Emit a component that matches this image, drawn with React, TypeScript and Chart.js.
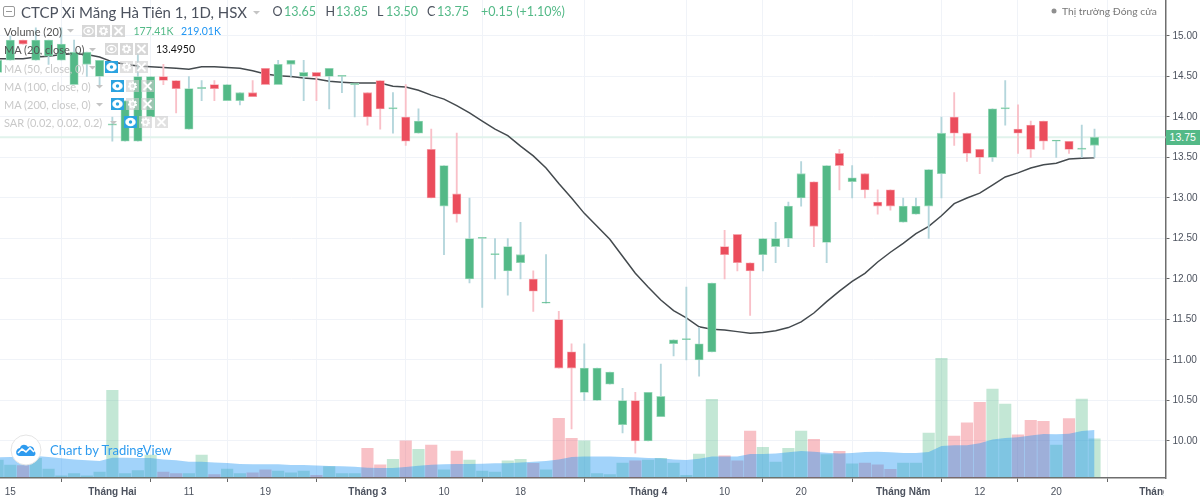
import React, { useEffect, useRef } from "react";
import { Chart, registerables } from "chart.js";

Chart.register(...registerables);

const firstIndex = -1;
const opens = [14.55,14.7,14.95,14.7,14.75,14.7,14.4,14.65,14.5,13.9,13.7,13.7,14.0,14.5,14.45,13.85,14.35,14.4,14.2,14.2,14.3,14.6,14.4,14.65,14.5,14.55,14.5,14.5,14.4,14.3,14.45,14.1,14.0,13.8,13.6,12.9,13.05,12.0,12.5,12.3,12.1,12.2,12.0,11.7,11.5,11.1,10.6,10.5,10.7,10.2,10.5,10.0,10.3,11.2,11.25,11.0,11.1,12.4,12.55,12.2,12.3,12.4,12.5,13.0,13.2,12.45,13.55,13.2,13.3,12.95,13.1,12.7,12.8,12.9,13.3,14.0,13.8,13.6,13.5,14.1,13.85,13.9,13.95,13.7,13.7,13.6,13.65];
const closes = [14.7,14.95,14.9,14.95,14.95,14.9,14.8,14.8,14.7,13.9,14.2,14.5,14.5,14.45,14.35,14.35,14.35,14.35,14.4,14.3,14.25,14.4,14.65,14.7,14.55,14.5,14.6,14.5,14.4,14.0,14.1,14.1,13.7,13.95,13.0,13.4,12.8,12.5,12.5,12.3,12.4,12.3,11.85,11.7,10.9,10.9,10.9,10.9,10.85,10.5,10.0,10.6,10.55,11.25,11.25,11.2,11.95,12.3,12.2,12.1,12.5,12.5,12.9,13.3,12.65,13.4,13.4,13.25,13.1,12.9,12.9,12.9,12.9,13.35,13.8,13.8,13.55,13.5,14.1,14.1,13.8,13.6,13.7,13.7,13.6,13.6,13.75];
const highs = [14.7,15.0,14.95,15.1,14.95,15.1,14.95,14.8,14.7,14.0,14.2,14.8,14.5,14.65,14.45,14.5,14.45,14.45,14.4,14.3,14.45,14.6,14.7,14.7,14.7,14.55,14.6,14.5,14.4,14.3,14.45,14.3,14.4,14.1,13.85,13.4,13.8,13.0,12.5,12.5,12.5,12.7,12.1,12.3,11.6,11.2,11.2,10.9,10.85,10.65,10.6,10.6,10.95,11.25,11.9,11.4,11.95,12.6,12.55,12.2,12.5,12.7,12.95,13.45,13.2,13.4,13.6,13.4,13.3,13.1,13.1,13.0,13.0,13.35,14.0,14.3,13.8,13.6,14.1,14.45,14.15,13.95,13.95,13.7,13.7,13.9,13.85];
const lows = [14.55,14.7,14.9,14.7,14.65,14.7,14.4,14.5,14.4,13.7,13.7,13.7,14.0,14.4,14.05,13.85,14.2,14.2,14.2,14.15,14.25,14.4,14.4,14.5,14.2,14.2,14.1,14.3,14.0,13.9,13.85,13.8,13.65,13.8,13.0,12.3,12.7,11.95,11.65,12.0,11.8,12.0,11.6,11.7,10.9,10.15,10.5,10.5,10.7,10.1,9.85,10.0,10.3,11.05,11.0,10.8,11.1,12.0,12.1,11.55,12.1,12.2,12.4,12.9,12.4,12.2,13.1,13.0,13.0,12.8,12.85,12.7,12.8,12.5,13.0,13.65,13.45,13.3,13.45,13.9,13.55,13.5,13.6,13.5,13.55,13.5,13.5];
const ma20 = [14.72,14.72,14.72,14.74,14.75,14.77,14.78,14.77,14.74,14.68,14.65,14.63,14.62,14.61,14.6,14.59,14.62,14.62,14.61,14.6,14.57,14.53,14.51,14.5,14.48,14.47,14.44,14.43,14.42,14.42,14.42,14.38,14.37,14.33,14.27,14.22,14.14,14.05,13.95,13.85,13.77,13.64,13.52,13.37,13.18,13.0,12.81,12.65,12.49,12.28,12.07,11.9,11.74,11.61,11.52,11.41,11.38,11.37,11.35,11.33,11.34,11.36,11.4,11.47,11.58,11.72,11.85,11.97,12.07,12.21,12.33,12.44,12.56,12.65,12.78,12.93,13.0,13.06,13.16,13.26,13.31,13.37,13.41,13.43,13.48,13.49,13.495];
const volumes = [79,56,53,87,37,5,16,5,23,404,16,30,102,23,16,16,102,11,37,16,20,33,28,20,28,8,48,16,16,134,57,82,168,129,149,33,121,79,28,23,75,82,64,33,273,180,168,16,11,65,75,79,87,65,8,107,362,99,75,214,138,70,134,214,175,104,120,61,65,57,36,65,65,205,553,191,252,348,410,340,196,264,259,149,272,363,177.41];
const volumeMa = [92,93,95,98,93,87,82,78,75,90,90,89,89,82,78,71,71,67,65,61,59,59,59,56,56,54,51,50,48,43,42,42,47,53,57,59,61,61,62,64,64,67,71,75,82,93,96,96,96,93,92,89,87,82,79,85,95,96,96,107,107,110,115,121,118,113,110,112,116,118,115,112,112,116,144,148,148,157,175,182,185,193,200,199,202,214,219.01];
const lastPrice = 13.75;
const xTickIndexes = [0, 8, 14, 20, 28, 34, 40, 50, 56, 62, 70, 76, 82, 90];
const xTickLabels = ["15", "Tháng Hai", "11", "19", "Tháng 3", "10", "18", "Tháng 4", "10", "20", "Tháng Năm", "12", "20", "Tháng 6"];
const priceTicks = [10, 10.5, 11, 11.5, 12, 12.5, 13, 13.5, 14, 14.5, 15];

const GREEN = "#53b987";
const RED = "#eb4d5c";
const UI_FONT = 'Lato, "Noto Sans", sans-serif';
const AXIS_FONT = '"Liberation Sans", Arial, sans-serif';

const isUp = (i: number) => closes[i] >= opens[i];
const xOf = (i: number) => i + firstIndex;
const zeroPad = (s: any) => { s.paddingTop = 0; s.paddingBottom = 0; s.paddingLeft = 0; s.paddingRight = 0; };

const Txt = ({ x, y, size = 12, color = "#555", ls = 0, children }: any) => (
  <span style={{ position: "absolute", left: x, top: y, transform: "translateY(-50%)", fontFamily: UI_FONT, fontSize: size, color, letterSpacing: ls, whiteSpace: "nowrap", lineHeight: 1 }}>
    {children}
  </span>
);

const Caret = ({ x, y }: any) => (
  <svg style={{ position: "absolute", left: x, top: y - 1.5 }} width="7" height="4">
    <path d="M0 0H7L3.5 3.5Z" fill="#c4c4c4" />
  </svg>
);

const Btn = ({ x, y, kind, active, faint }: any) => {
  const stroke = "#fff";
  return (
    <svg style={{ position: "absolute", left: x, top: y }} width="13" height="12">
      <rect width="13" height="12" fill={active ? "#2ba3e0" : faint ? "rgba(205,205,205,0.6)" : "rgba(205,205,205,0.8)"} />
      {kind === "eye" && (
        <g>
          <ellipse cx="6.5" cy="6" rx="4.6" ry="3.6" fill={active ? "#fff" : "none"} stroke={stroke} strokeWidth="1.2" />
          <circle cx="6.5" cy="6" r="1.7" fill={active ? "#2ba3e0" : stroke} />
        </g>
      )}
      {kind === "gear" && (
        <g fill="none" stroke={stroke}>
          <circle cx="6.5" cy="6" r="3.4" strokeWidth="2.2" strokeDasharray="1.9 1.1" />
          <circle cx="6.5" cy="6" r="2.6" strokeWidth="1.4" />
        </g>
      )}
      {kind === "x" && <path d="M2.5 2L10.5 10M10.5 2L2.5 10" stroke={stroke} strokeWidth="1.8" />}
    </svg>
  );
};

const Overlay = () => (
  <div style={{ position: "absolute", inset: 0, pointerEvents: "none" }}>
    <svg style={{ position: "absolute", left: 3, top: 6 }} width="13" height="12">
      <rect x="0.5" y="0.5" width="11" height="10" rx="1.5" fill="none" stroke="#9a9a9a" />
      <path d="M3 5.5H9" stroke="#9a9a9a" />
    </svg>
    <Txt x={21} y={12} size={15} color="#4c525e">CTCP Xi Măng Hà Tiên 1, 1D, HSX</Txt>
    <Caret x={253} y={12} />
    <Txt x={272.5} y={12} size={12.5} color="#4c525e">O</Txt>
    <Txt x={284} y={12} size={12.5} color={GREEN}>13.65</Txt>
    <Txt x={325.5} y={12} size={12.5} color="#4c525e">H</Txt>
    <Txt x={336} y={12} size={12.5} color={GREEN}>13.85</Txt>
    <Txt x={377} y={12} size={12.5} color="#4c525e">L</Txt>
    <Txt x={386} y={12} size={12.5} color={GREEN}>13.50</Txt>
    <Txt x={427} y={12} size={12.5} color="#4c525e">C</Txt>
    <Txt x={437} y={12} size={12.5} color={GREEN}>13.75</Txt>
    <Txt x={481} y={12} size={12.5} color={GREEN}>+0.15 (+1.10%)</Txt>
    <svg style={{ position: "absolute", left: 1051, top: 8 }} width="6" height="6"><circle cx="3" cy="3" r="2.5" fill="#8f8f8f" /></svg>
    <Txt x={1062} y={11} size={10.3} color="#777">Thị trường Đóng cửa</Txt>

    <Txt x={4} y={30.5} size={11} color="#555">Volume (20)</Txt>
    <Caret x={67} y={30.5} />
    <Btn x={82} y={25} kind="eye" /><Btn x={97} y={25} kind="gear" /><Btn x={112} y={25} kind="x" />
    <Txt x={133.5} y={30.5} size={10.5} color={GREEN}>177.41K</Txt>
    <Txt x={181} y={30.5} size={10.5} color="#2196f3">219.01K</Txt>

    <Txt x={4} y={49} size={11} color="#555">MA (20, close, 0)</Txt>
    <Caret x={89} y={49} />
    <Btn x={105} y={43} kind="eye" /><Btn x={120} y={43} kind="gear" /><Btn x={135} y={43} kind="x" />
    <Txt x={156} y={49} size={10.5} color="#111">13.4950</Txt>

    <Txt x={4} y={67.5} size={11} color="#c9c9c9">MA (50, close, 0)</Txt>
    <Caret x={89} y={67.5} />
    <Btn x={105} y={61} kind="eye" active /><Btn x={120} y={61} kind="gear" faint /><Btn x={135} y={61} kind="x" faint />

    <Txt x={4} y={86} size={11} color="#c9c9c9">MA (100, close, 0)</Txt>
    <Caret x={96} y={86} />
    <Btn x={111} y={80} kind="eye" active /><Btn x={126} y={80} kind="gear" faint /><Btn x={141} y={80} kind="x" faint />

    <Txt x={4} y={104} size={11} color="#c9c9c9">MA (200, close, 0)</Txt>
    <Caret x={96} y={104} />
    <Btn x={111} y={98} kind="eye" active /><Btn x={126} y={98} kind="gear" faint /><Btn x={141} y={98} kind="x" faint />

    <Txt x={4} y={122} size={11} color="#c9c9c9">SAR (0.02, 0.02, 0.2)</Txt>
    <Caret x={110} y={122} />
    <Btn x={124} y={116} kind="eye" active /><Btn x={139} y={116} kind="gear" faint /><Btn x={155} y={116} kind="x" faint />

    <svg style={{ position: "absolute", left: 10, top: 434 }} width="32" height="32">
      <circle cx="16" cy="16" r="15" fill="#fff" stroke="#e4e4e4" />
      <path d="M7 21C5 18 7 14 10 14C11 10 16 10 18 13C21 11 25 14 24 17C26 18 26 21 24 22H9Z" fill="#2e9bef" />
      <path d="M8 19L12 15L16 18L20 14L24 18" fill="none" stroke="#fff" strokeWidth="1.6" />
    </svg>
    <Txt x={50} y={450} size={13} color="#2e9bef">Chart by TradingView</Txt>

    <div style={{ position: "absolute", left: 1165.5, top: 130, width: 34.5, height: 15, background: GREEN, color: "#fff", fontFamily: AXIS_FONT, fontSize: 10.5, lineHeight: "15px", textAlign: "center" }}>
      {lastPrice.toFixed(2)}
    </div>
  </div>
);

export default function App() {
  const ref = useRef<HTMLCanvasElement | null>(null);
  useEffect(() => {
    const xs = opens.map((_, i) => xOf(i));
    const bar = (values: any[]) => values.map((y, i) => ({ x: xs[i], y }));
    const chart = new Chart(ref.current as HTMLCanvasElement, {
      type: "bar",
      data: {
        datasets: [
          { type: "line", order: 6, yAxisID: "y", data: [{ x: -2, y: lastPrice }, { x: 92, y: lastPrice }], borderColor: "#e1f3ec", borderWidth: 2, pointRadius: 0 },
          { type: "bar", order: 5, yAxisID: "vol", grouped: false, barThickness: 11.5, data: bar(volumes), backgroundColor: xs.map((_, i) => (isUp(i) ? "rgba(83,185,135,0.35)" : "rgba(235,77,92,0.35)")) },
          { type: "line", order: 4, yAxisID: "vol", data: bar(volumeMa), fill: "origin", backgroundColor: "rgba(33,150,243,0.42)", borderWidth: 0, pointRadius: 0, tension: 0 },
          { type: "line", order: 3, yAxisID: "y", data: bar(ma20), borderColor: "#444a4e", borderWidth: 1.5, pointRadius: 0, tension: 0 },
          { type: "bar", order: 2, yAxisID: "y", grouped: false, barThickness: 1.2, data: bar(xs.map((_, i) => [lows[i], highs[i]])), backgroundColor: xs.map((_, i) => (isUp(i) ? "#b4d6dc" : "#f9c0c8")) },
          { type: "bar", order: 1, yAxisID: "y", grouped: false, barThickness: 8.4, minBarLength: 1.2, borderSkipped: false, borderWidth: 0.8, data: bar(xs.map((_, i) => [opens[i], closes[i]])), backgroundColor: xs.map((_, i) => (isUp(i) ? GREEN : RED)), borderColor: xs.map((_, i) => (isUp(i) ? "#a3dcc0" : "#f7a8b0")) },
        ] as any,
      },
      options: {
        animation: false,
        responsive: false,
        layout: { padding: 0 },
        plugins: { legend: { display: false }, title: { display: false }, tooltip: { enabled: false } },
        scales: {
          x: {
            type: "linear",
            offset: false,
            min: -0.808,
            max: 90.565,
            afterBuildTicks: (s: any) => { s.ticks = xTickIndexes.map((value) => ({ value })); },
            afterFit: (s: any) => { s.height = 21; zeroPad(s); },
            grid: { color: "#f0f3f8", tickColor: "#666", tickLength: 4, lineWidth: 1 },
            border: { color: "#6e6e6e", width: 1.5 },
            ticks: {
              autoSkip: false,
              maxRotation: 0,
              padding: 4,
              color: "#4c525e",
              callback: (v: any) => xTickLabels[xTickIndexes.indexOf(Number(v))] ?? "",
              font: (c: any) => ({ family: AXIS_FONT, size: 10, weight: String(xTickLabels[c.index]).startsWith("Tháng") ? "bold" : "normal" }),
            },
          },
          y: {
            position: "right",
            min: 9.543,
            max: 15.444,
            afterBuildTicks: (s: any) => { s.ticks = priceTicks.map((value) => ({ value })); },
            afterFit: (s: any) => { s.width = 34.5; zeroPad(s); },
            grid: { color: "#f0f3f8", tickColor: "#666", tickLength: 4, lineWidth: 1 },
            border: { color: "#6e6e6e", width: 1.5 },
            ticks: { padding: 3, color: "#4c525e", font: { family: AXIS_FONT, size: 10 }, callback: (v: any) => Number(v).toFixed(2) },
          },
          vol: { display: false, position: "left", min: -4.66, max: 2223, grid: { display: false } },
        },
      },
      plugins: [
        {
          id: "clipCorner",
          afterDraw(c: any) {
            c.ctx.save();
            c.ctx.fillStyle = "#fff";
            c.ctx.fillRect(c.chartArea.right - 1.5, c.chartArea.bottom + 6, 40, 30);
            c.ctx.restore();
          },
        },
      ],
    } as any);
    return () => chart.destroy();
  }, []);
  return (
    <div style={{ position: "fixed", left: 0, top: 0, width: 1200, height: 499, background: "#fff", overflow: "hidden" }}>
      <canvas ref={ref} width={1200} height={499} style={{ position: "absolute", left: 0, top: 0, width: 1200, height: 499 }} />
      <Overlay />
    </div>
  );
}
